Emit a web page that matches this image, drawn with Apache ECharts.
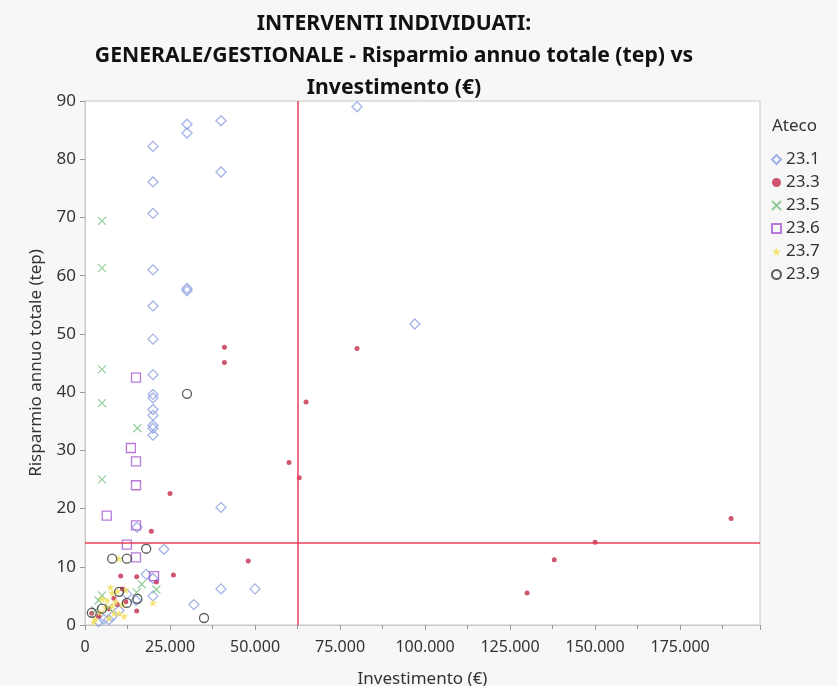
<!DOCTYPE html>
<html>
<head>
<meta charset="utf-8">
<script src="https://cdn.jsdelivr.net/npm/echarts@6/dist/echarts.min.js"></script>
<style>
html,body{margin:0;padding:0;background:#f7f7f7;}
#chart{width:837px;height:686px;}
</style>
</head>
<body>
<div id="chart"></div>
<script>
// ---- Data (Investimento €, Risparmio annuo totale tep) ----
const titleLines = ["INTERVENTI INDIVIDUATI:", "GENERALE/GESTIONALE - Risparmio annuo totale (tep) vs", "Investimento (€)"];
const xTicks = [0, 25000, 50000, 75000, 100000, 125000, 150000, 175000];
const yTicks = [0, 10, 20, 30, 40, 50, 60, 70, 80, 90];
const groups = ["23.1", "23.3", "23.5", "23.6", "23.7", "23.9"];

const ateco231 = [[80000,89.0],[20000,82.2],[30000,86.0],[30000,84.5],[40000,86.6],[40000,77.8],[20000,76.1],[20000,70.7],[20000,61.0],[30000,57.8],[30000,57.4],[20000,54.8],[20000,49.1],[97000,51.7],[20000,43.0],[20000,39.6],[20000,39.0],[20000,37.0],[20000,36.0],[20000,34.3],[20000,33.8],[20000,32.6],[40000,20.2],[15300,16.8],[23200,13.0],[18000,8.7],[40000,6.2],[50000,6.2],[32000,3.5],[12300,5.3],[20000,5.0],[20000,8.0],[8000,1.5],[5500,1.0],[15000,4.2],[10000,2.5],[4000,0.6],[7000,0.9]];
const ateco233 = [[41000,47.7],[41000,45.1],[80000,47.5],[65000,38.3],[60000,27.9],[63000,25.3],[25000,22.6],[19500,16.1],[190000,18.3],[150000,14.2],[138000,11.2],[130000,5.5],[48000,11.0],[10500,8.4],[15200,8.3],[26000,8.6],[21000,7.4],[15200,2.4],[2000,2.0],[9500,3.5],[7000,2.8],[12000,4.0],[4000,1.5],[8500,4.6],[11000,6.2]];
const ateco235 = [[5000,69.4],[5000,61.3],[5000,43.9],[5000,38.1],[15400,33.8],[5000,25.0],[16700,7.0],[21000,6.1],[15200,5.6],[5000,5.1],[3000,2.5],[7000,3.0],[4000,4.2]];
const ateco236 = [[15000,42.5],[13500,30.4],[15000,28.1],[15000,24.0],[6400,18.8],[15000,17.1],[12300,13.8],[15000,11.6],[20300,8.4]];
const ateco237 = [[10000,11.4],[8000,5.5],[9000,4.0],[6000,3.0],[10000,2.0],[7000,1.2],[20000,3.8],[12000,6.0],[11000,3.5],[5000,4.5],[3000,1.0],[8500,2.0],[7500,6.5],[9500,5.8],[6500,4.2],[4500,2.2],[11500,1.5],[8000,3.2],[2500,0.5]];
const ateco239 = [[30000,39.7],[18000,13.1],[8000,11.4],[12300,11.4],[35000,1.2],[10000,5.7],[15400,4.5],[12300,3.8],[5000,2.8],[2000,2.1]];
const refX = 62700;
const refY = 14.2;

const FONT = 'Noto Sans';
const fmtIt = v => String(v).replace(/\B(?=(\d{3})+(?!\d))/g, '.');

const chart = echarts.init(document.getElementById('chart'));
const hollow = c => ({color: 'rgba(255,255,255,0)', borderColor: c, borderWidth: 1.3});

const series = [
  {name: groups[0], data: ateco231, symbol: 'diamond', symbolSize: 10, itemStyle: hollow('#8c9fe0')},
  {name: groups[1], data: ateco233, symbol: 'circle', symbolSize: 5, itemStyle: {color: '#c42a4b'}},
  {name: groups[2], data: ateco235, symbol: 'path://M0,0L10,10M10,0L0,10', symbolSize: 8, itemStyle: {color: 'rgba(0,0,0,0)', borderColor: '#78c084', borderWidth: 1.2}},
  {name: groups[3], data: ateco236, symbol: 'rect', symbolSize: 9, itemStyle: hollow('#a657d2')},
  {name: groups[4], data: ateco237, symbol: 'path://M5,0L6.2,3.5L10,3.8L7,6.2L8,10L5,7.8L2,10L3,6.2L0,3.8L3.8,3.5Z', symbolSize: 8, itemStyle: {color: '#f2e05a'}},
  {name: groups[5], data: ateco239, symbol: 'circle', symbolSize: 9, itemStyle: hollow('#333333')}
].map(s => Object.assign({type: 'scatter', emphasis: {disabled: true}}, s));

series[0].markLine = {
  silent: true, symbol: 'none', label: {show: false},
  lineStyle: {color: '#e8415a', width: 1.5, type: 'solid'},
  data: [{xAxis: refX}, {yAxis: refY}]
};

chart.setOption({
  animation: false,
  backgroundColor: '#f7f7f7',
  textStyle: {fontFamily: FONT},
  title: [
    {text: titleLines.join('\n'), left: 389, textAlign: 'center', top: 3,
     textStyle: {fontFamily: FONT, fontSize: 21.2, fontWeight: 'bold', color: '#111', lineHeight: 32}},
    {text: 'Ateco', left: 767, top: 113, textStyle: {fontFamily: FONT, fontSize: 17, fontWeight: 'normal', color: '#333'}}
  ],
  legend: {
    orient: 'vertical', left: 766, top: 146, itemGap: 6, itemWidth: 9, itemHeight: 9,
    textStyle: {fontFamily: FONT, fontSize: 17, color: '#333'},
    data: groups
  },
  grid: {left: 85, right: 77, top: 101, bottom: 61, outerBoundsMode: 'none', containLabel: false,
         show: true, backgroundColor: '#ffffff', borderColor: '#c8c8c8', borderWidth: 1},
  xAxis: {
    type: 'value', min: 0, max: 198500, interval: 25000,
    name: 'Investimento (€)', nameLocation: 'middle', nameGap: 46,
    nameTextStyle: {fontFamily: FONT, fontSize: 17, color: '#333'},
    axisLine: {show: true, lineStyle: {color: '#c8c8c8'}},
    axisTick: {show: true, length: 5, lineStyle: {color: '#999'}},
    minorTick: {show: true, splitNumber: 2, length: 4, lineStyle: {color: '#999'}},
    splitLine: {show: false},
    axisLabel: {fontFamily: FONT, fontSize: 16, color: '#333', margin: 14, showMaxLabel: false,
      formatter: v => xTicks.includes(v) ? fmtIt(v) : ''}
  },
  yAxis: {
    type: 'value', min: 0, max: 90, interval: 10,
    name: 'Risparmio annuo totale (tep)', nameLocation: 'middle', nameGap: 40,
    nameTextStyle: {fontFamily: FONT, fontSize: 17, color: '#333'},
    axisLine: {show: true, lineStyle: {color: '#c8c8c8'}},
    axisTick: {show: true, length: 5, lineStyle: {color: '#999'}},
    splitLine: {show: false},
    axisLabel: {fontFamily: FONT, fontSize: 17, color: '#333', margin: 9,
      formatter: v => yTicks.includes(v) ? String(v) : ''}
  },
  series: series
});
</script>
</body>
</html>
